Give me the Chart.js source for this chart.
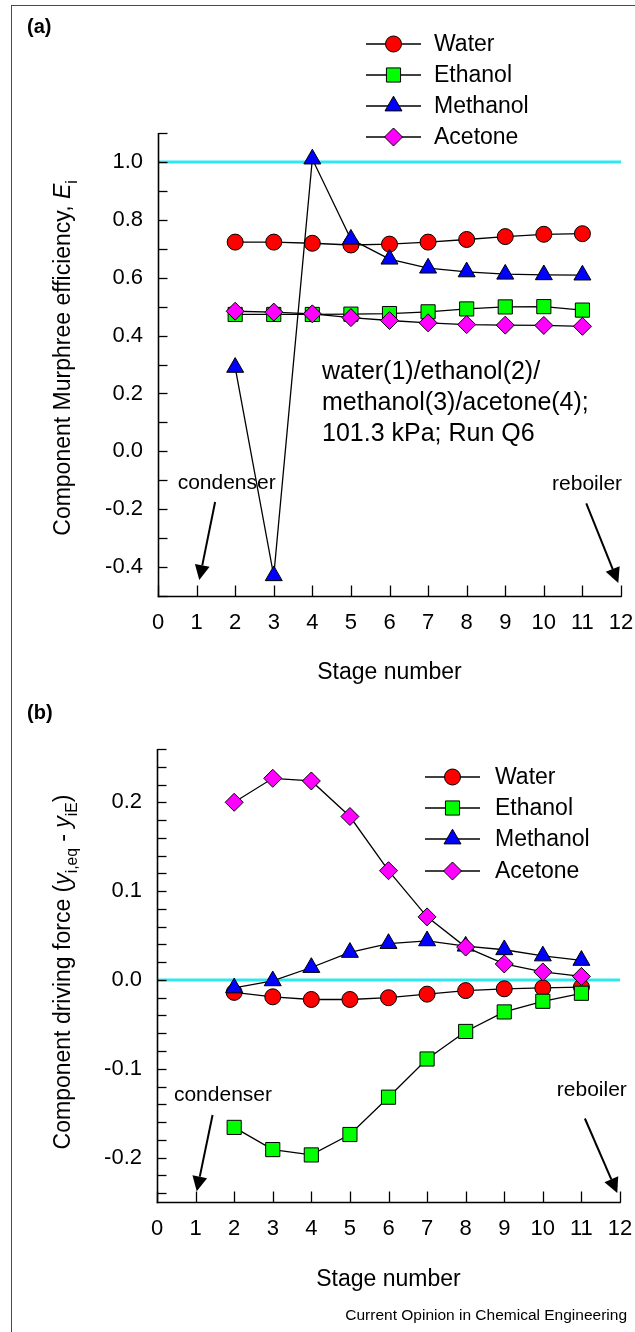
<!DOCTYPE html>
<html>
<head>
<meta charset="utf-8">
<title>Component Murphree efficiency and driving force</title>
<script src="https://cdn.jsdelivr.net/npm/chart.js@4.4.1/dist/chart.umd.min.js"></script>
<style>
  html, body { margin: 0; padding: 0; background: #ffffff; }
  #page { position: relative; width: 635px; height: 1332px; overflow: hidden; background: #ffffff; }
  #page canvas { position: absolute; left: 0; }
  #frameTop { position: absolute; left: 11px; top: 5px; right: 0; height: 0; border-top: 1.5px solid #4a4a4a; }
  #frameLeft { position: absolute; left: 11px; top: 5px; bottom: 0; width: 0; border-left: 1.5px solid #4a4a4a; }
</style>
</head>
<body>
<div id="page">
  <div id="frameTop"></div>
  <div id="frameLeft"></div>
  <canvas id="chartA" width="635" height="700" style="top:0;width:635px;height:700px"></canvas>
  <canvas id="chartB" width="635" height="632" style="top:700px;width:635px;height:632px"></canvas>
</div>
<script>
// ---------------- data ----------------
const stages = [2, 3, 4, 5, 6, 7, 8, 9, 10, 11];
const seriesNames = ['Water', 'Ethanol', 'Methanol', 'Acetone'];

// (a) Component Murphree efficiency
const effWater    = [0.723, 0.723, 0.719, 0.713, 0.716, 0.723, 0.732, 0.742, 0.750, 0.752];
const effEthanol  = [0.473, 0.473, 0.473, 0.474, 0.476, 0.482, 0.492, 0.499, 0.500, 0.488];
const effMethanol = [0.290, -0.430, 1.010, 0.733, 0.664, 0.633, 0.620, 0.612, 0.610, 0.609];
const effAcetone  = [0.484, 0.481, 0.475, 0.462, 0.452, 0.444, 0.438, 0.436, 0.435, 0.432];

// (b) Component driving force
const dfWater    = [-0.014, -0.019, -0.022, -0.022, -0.020, -0.016, -0.012, -0.010, -0.009, -0.008];
const dfEthanol  = [-0.166, -0.191, -0.197, -0.174, -0.132, -0.089, -0.058, -0.036, -0.024, -0.015];
const dfMethanol = [-0.009, -0.001, 0.014, 0.031, 0.041, 0.044, 0.038, 0.034, 0.027, 0.022];
const dfAcetone  = [0.200, 0.227, 0.224, 0.184, 0.123, 0.071, 0.037, 0.018, 0.009, 0.004];

const xTickLabels  = ['0', '1', '2', '3', '4', '5', '6', '7', '8', '9', '10', '11', '12'];
const yTickLabelsA = ['-0.4', '-0.2', '0.0', '0.2', '0.4', '0.6', '0.8', '1.0'];
const yTickLabelsB = ['-0.2', '-0.1', '0.0', '0.1', '0.2'];
const refValueA = 1.0;
const refValueB = 0.0;
const noteLinesA = ['water(1)/ethanol(2)/', 'methanol(3)/acetone(4);', '101.3 kPa; Run Q6'];
const xTitle = 'Stage number';
const credit = 'Current Opinion in Chemical Engineering';

// ---------------- styles ----------------
const FONT = '"Liberation Sans", Arial, Helvetica, sans-serif';
const markerStyles = [
  { fill: '#ff0000', shape: 'circle',   radius: 8 },
  { fill: '#00ff00', shape: 'rect',     radius: 10 },
  { fill: '#0000ff', shape: 'triangle', radius: 9.8 },
  { fill: '#ff00ff', shape: 'rectRot',  radius: 9 }
];
const drawOrder = [4, 3, 2, 1];

function buildDatasets(seriesList) {
  return seriesList.map((vals, k) => ({
    label: seriesNames[k],
    data: stages.map((s, i) => ({ x: s, y: vals[i] })),
    showLine: true,
    borderColor: '#000000',
    borderWidth: 1.3,
    pointStyle: markerStyles[k].shape,
    pointRadius: markerStyles[k].radius,
    pointHoverRadius: markerStyles[k].radius,
    pointBackgroundColor: markerStyles[k].fill,
    pointBorderColor: '#000000',
    pointBorderWidth: 1,
    order: drawOrder[k],
    clip: false,
    tension: 0
  }));
}

function line(ctx, x1, y1, x2, y2) {
  ctx.beginPath(); ctx.moveTo(x1, y1); ctx.lineTo(x2, y2); ctx.stroke();
}
function arrow(ctx, x1, y1, x2, y2) {
  const ang = Math.atan2(y2 - y1, x2 - x1), L = 15, W = 7.5;
  const bx = x2 - L * Math.cos(ang), by = y2 - L * Math.sin(ang);
  ctx.lineWidth = 2;
  line(ctx, x1, y1, bx, by);
  ctx.beginPath();
  ctx.moveTo(x2, y2);
  ctx.lineTo(bx + W * Math.sin(ang), by - W * Math.cos(ang));
  ctx.lineTo(bx - W * Math.sin(ang), by + W * Math.cos(ang));
  ctx.closePath();
  ctx.fill();
}
function richText(ctx, segs, size, cx, cy, rot) {
  ctx.save();
  ctx.translate(cx, cy);
  ctx.rotate(rot);
  let total = 0;
  const m = segs.map(s => {
    const fs = s.sub ? size * 0.68 : size;
    const f = (s.it ? 'italic ' : '') + fs + 'px ' + FONT;
    ctx.font = f;
    const w = ctx.measureText(s.t).width;
    total += w;
    return { f, w, dy: s.sub ? size * 0.28 : 0 };
  });
  let x = -total / 2;
  ctx.textAlign = 'left';
  ctx.textBaseline = 'alphabetic';
  ctx.fillStyle = '#000';
  segs.forEach((s, i) => {
    ctx.font = m[i].f;
    ctx.fillText(s.t, x, size * 0.36 + m[i].dy);
    x += m[i].w;
  });
  ctx.restore();
}

function decorPlugin(p) {
  return {
    id: 'decor',
    beforeDatasetsDraw(chart) {
      const ctx = chart.ctx, ca = chart.chartArea, xs = chart.scales.x, ys = chart.scales.y;
      ctx.save();
      const ry = ys.getPixelForValue(p.ref);
      ctx.strokeStyle = '#2ee8f0';
      ctx.lineWidth = 3;
      line(ctx, ca.left, ry, ca.right, ry);
      ctx.strokeStyle = '#000';
      ctx.lineWidth = 1.6;
      const L = Math.round(ca.left) + 0.5, B = Math.round(ca.bottom) + 0.5;
      line(ctx, L, ca.top, L, B + 0.8);
      line(ctx, L - 0.8, B, ca.right + 0.8, B);
      ctx.lineWidth = 1.3;
      ys.ticks.forEach(t => {
        const py = Math.round(ys.getPixelForValue(t.value)) + 0.5;
        line(ctx, L, py, L + 9, py);
      });
      xs.ticks.forEach(t => {
        const px = Math.round(xs.getPixelForValue(t.value)) + 0.5;
        line(ctx, px, B, px, B - 11);
      });
      ctx.restore();
    },
    afterDraw(chart) {
      const ctx = chart.ctx, ca = chart.chartArea, xs = chart.scales.x, ys = chart.scales.y;
      const X = v => xs.getPixelForValue(v), Y = v => ys.getPixelForValue(v);
      ctx.save();
      ctx.fillStyle = '#000';
      ctx.strokeStyle = '#000';
      // panel label
      ctx.font = 'bold 20px ' + FONT;
      ctx.textAlign = 'left'; ctx.textBaseline = 'middle';
      ctx.fillText(p.panel, p.panelPos[0], p.panelPos[1]);
      // legend
      const lg = p.legend;
      chart.data.datasets.forEach((ds, k) => {
        const ly = lg.rows[k];
        ctx.strokeStyle = '#000'; ctx.lineWidth = 1.3;
        line(ctx, lg.x1, ly, lg.x2, ly);
        ctx.fillStyle = ds.pointBackgroundColor;
        ctx.strokeStyle = '#000'; ctx.lineWidth = 1;
        Chart.helpers.drawPoint(ctx, { pointStyle: ds.pointStyle, radius: ds.pointRadius, rotation: 0, borderWidth: 1 }, (lg.x1 + lg.x2) / 2, ly);
        ctx.fillStyle = '#000';
        ctx.font = '23px ' + FONT;
        ctx.textAlign = 'left'; ctx.textBaseline = 'middle';
        ctx.fillText(ds.label, lg.tx, ly + 1);
      });
      // notes
      if (p.notes) {
        ctx.font = '25px ' + FONT;
        ctx.textAlign = 'left'; ctx.textBaseline = 'middle';
        p.notes.lines.forEach((t, i) => ctx.fillText(t, X(p.notes.x), Y(p.notes.y) + i * 31));
      }
      // condenser / reboiler
      ctx.font = '21px ' + FONT;
      ctx.textAlign = 'center'; ctx.textBaseline = 'middle';
      p.marks.forEach(a => {
        ctx.fillStyle = '#000';
        ctx.fillText(a.text, X(a.tx), Y(a.ty));
        arrow(ctx, X(a.from[0]), Y(a.from[1]), X(a.to[0]), Y(a.to[1]));
      });
      // axis titles
      ctx.font = '23px ' + FONT;
      ctx.textAlign = 'center'; ctx.textBaseline = 'middle';
      ctx.fillText(xTitle, (ca.left + ca.right) / 2, ca.bottom + p.xTitleGap);
      richText(ctx, p.yTitle, 23, p.yTitleX, p.yTitleY, -Math.PI / 2);
      if (p.credit) {
        ctx.font = '15.5px ' + FONT;
        ctx.textAlign = 'right'; ctx.textBaseline = 'middle';
        ctx.fillText(credit, 627, p.creditY);
      }
      ctx.restore();
    }
  };
}

function makePanel(id, p) {
  const labelOf = (labels, v) => {
    const hit = labels.find(s => Math.abs(parseFloat(s) - v) < 1e-9);
    return hit === undefined ? '' : hit;
  };
  const chart = new Chart(document.getElementById(id), {
    type: 'scatter',
    data: { datasets: buildDatasets(p.series) },
    options: {
      responsive: false,
      maintainAspectRatio: false,
      animation: false,
      events: [],
      layout: { padding: { top: p.top, right: 635 - p.right, left: 0, bottom: 0 } },
      plugins: { legend: { display: false }, tooltip: { enabled: false } },
      scales: {
        x: {
          type: 'linear', min: 0, max: 12,
          afterBuildTicks: s => { s.ticks = xTickLabels.map(v => ({ value: parseFloat(v) })); },
          afterFit: s => { s.height = p.canvasH - p.bottom; },
          grid: { display: false, drawTicks: false },
          border: { display: false },
          ticks: {
            autoSkip: false, maxRotation: 0, padding: 0, color: '#000',
            font: { family: FONT, size: 22, lineHeight: 2.45 },
            callback: v => labelOf(xTickLabels, v)
          }
        },
        y: {
          type: 'linear', min: p.yMin, max: p.yMax,
          afterBuildTicks: s => {
            const out = [];
            const n = Math.round((p.yMax - p.yMinor0) / p.yMinor);
            for (let i = 0; i <= n; i++) out.push({ value: Math.round((p.yMinor0 + i * p.yMinor) * 1000) / 1000 });
            s.ticks = out;
          },
          afterFit: s => { s.width = p.left; },
          grid: { display: false, drawTicks: false },
          border: { display: false },
          ticks: {
            autoSkip: false, padding: 15, color: '#000',
            font: { family: FONT, size: 22 },
            callback: v => labelOf(p.yLabels, Math.round(v * 1000) / 1000)
          }
        }
      }
    },
    plugins: [decorPlugin(p)]
  });
  // make the plot area land exactly where the reference has it
  for (let k = 0; k < 3; k++) {
    const ca = chart.chartArea, pad = chart.options.layout.padding;
    const dr = ca.right - p.right, dt = p.top - ca.top;
    if (Math.abs(dr) < 0.5 && Math.abs(dt) < 0.5) break;
    pad.right = Math.max(0, pad.right + dr);
    pad.top = Math.max(0, pad.top + dt);
    chart.update();
  }
  return chart;
}

makePanel('chartA', {
  canvasH: 700, top: 133, bottom: 596, left: 158, right: 621,
  yMin: -0.5, yMax: 1.1, yMinor0: -0.5, yMinor: 0.1, yLabels: yTickLabelsA,
  series: [effWater, effEthanol, effMethanol, effAcetone],
  ref: refValueA,
  panel: '(a)', panelPos: [27, 27],
  legend: { x1: 366, x2: 421, tx: 434, rows: [44, 75, 106, 137] },
  notes: { lines: noteLinesA, x: 4.25, y: 0.272 },
  marks: [
    { text: 'condenser', tx: 1.78, ty: -0.11, from: [1.48, -0.175], to: [1.07, -0.445] },
    { text: 'reboiler', tx: 11.12, ty: -0.115, from: [11.1, -0.18], to: [11.93, -0.455] }
  ],
  xTitleGap: 77,
  yTitle: [{ t: 'Component Murphree efficiency, ' }, { t: 'E', it: true }, { t: 'i', sub: true }],
  yTitleX: 62, yTitleY: 358
});

makePanel('chartB', {
  canvasH: 632, top: 49, bottom: 502, left: 157, right: 620,
  yMin: -0.25, yMax: 0.26, yMinor0: -0.24, yMinor: 0.02, yLabels: yTickLabelsB,
  series: [dfWater, dfEthanol, dfMethanol, dfAcetone],
  ref: refValueB,
  panel: '(b)', panelPos: [27, 13],
  legend: { x1: 425, x2: 480, tx: 495, rows: [77, 108, 139, 171] },
  notes: null,
  marks: [
    { text: 'condenser', tx: 1.71, ty: -0.13, from: [1.44, -0.152], to: [1.03, -0.238] },
    { text: 'reboiler', tx: 11.27, ty: -0.124, from: [11.09, -0.156], to: [11.93, -0.24] }
  ],
  xTitleGap: 78,
  yTitle: [{ t: 'Component driving force (' }, { t: 'y', it: true }, { t: 'i,eq', sub: true }, { t: ' - ' }, { t: 'y', it: true }, { t: 'iE', sub: true }, { t: ')' }],
  yTitleX: 62, yTitleY: 272,
  credit: true, creditY: 616
});
</script>
</body>
</html>
